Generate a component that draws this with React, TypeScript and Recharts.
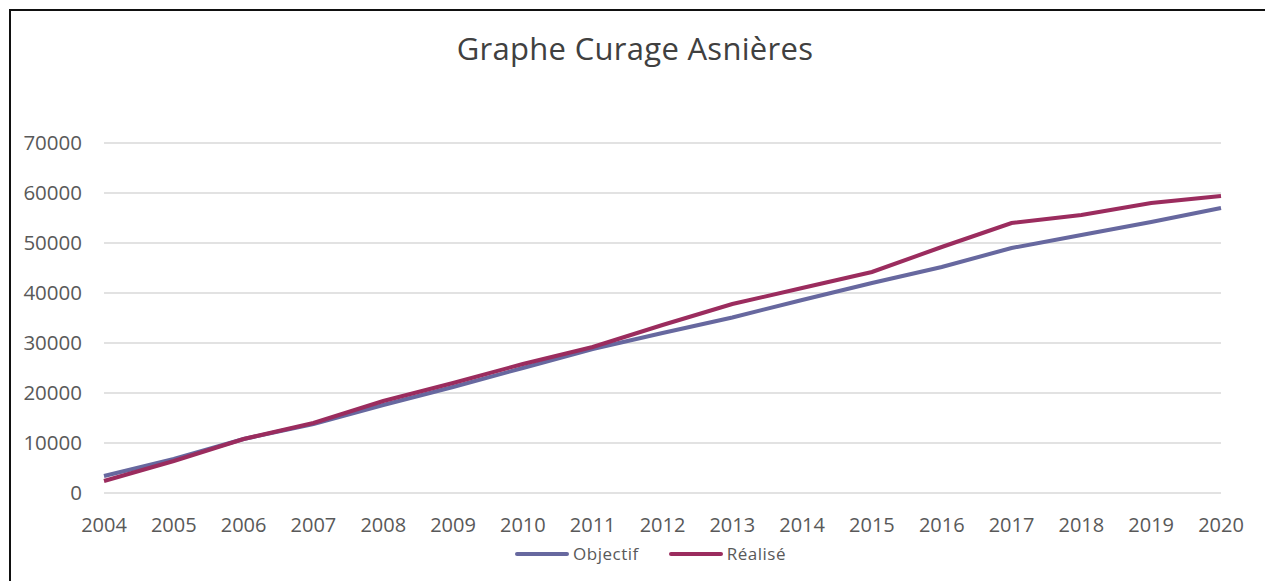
import { LineChart, Line, XAxis, YAxis, CartesianGrid, Legend } from 'recharts';

const years = ['2004', '2005', '2006', '2007', '2008', '2009', '2010', '2011', '2012', '2013', '2014', '2015', '2016', '2017', '2018', '2019', '2020'];
const objectif = [3400, 6800, 10800, 13800, 17600, 21200, 25000, 28800, 32000, 35100, 38600, 42000, 45200, 49000, 51600, 54200, 57000];
const realise = [2400, 6400, 10800, 14000, 18400, 22000, 25800, 29200, 33600, 37800, 41000, 44200, 49200, 54000, 55600, 58000, 59400];
const yTicks = [0, 10000, 20000, 30000, 40000, 50000, 60000, 70000];

const COLORS = { objectif: '#67689f', realise: '#9b2c5e' };
const FONT = '"Open Sans", "Segoe UI", sans-serif';

const data = years.map((year, i) => ({ year, objectif: objectif[i], realise: realise[i] }));

const legendItems = [
    { name: 'Objectif', color: COLORS.objectif },
    { name: 'Réalisé', color: COLORS.realise },
];

// legend wrapper is only as wide as the plot, so push it right to centre on the page
function ChartLegend() {
    return (
        <div style={{ display: 'flex', justifyContent: 'center', gap: 30, fontFamily: FONT, fontSize: 17, color: '#595959', marginLeft: 80, marginTop: -3 }}>
            {legendItems.map((item) => (
                <div key={item.name} style={{ display: 'flex', alignItems: 'center' }}>
                    <span style={{ display: 'inline-block', width: 54, height: 4, borderRadius: 2, background: item.color, marginRight: 4 }} />
                    <span style={{ letterSpacing: 0.5 }}>{item.name}</span>
                </div>
            ))}
        </div>
    );
}

export default function App() {
    return (
        <div style={{ position: 'fixed', left: 0, top: 0, width: 1265, height: 581, overflow: 'hidden', background: '#fff' }}>
            <div style={{ position: 'absolute', left: 9, top: 9, width: 2000, height: 2000, border: '2px solid #111' }} />
            <div style={{ position: 'absolute', left: 0, top: 27, width: 1270, textAlign: 'center', fontFamily: FONT, fontSize: 31, color: '#404040', letterSpacing: 0.3 }}>
                Graphe Curage Asnières
            </div>
            <div style={{ position: 'absolute', left: 0, top: 0 }}>
                <LineChart width={1265} height={581} data={data} margin={{ top: 143, right: 44, left: 0, bottom: 0 }}>
                    <CartesianGrid vertical={false} stroke="#d9d9d9" strokeWidth={1.5} />
                    <XAxis
                        dataKey="year"
                        axisLine={false}
                        tickLine={false}
                        tickSize={0}
                        tickMargin={25}
                        height={52}
                        interval={0}
                        tick={{ fill: '#595959', fontSize: 20, fontFamily: FONT }}
                    />
                    <YAxis
                        domain={[0, 70000]}
                        ticks={yTicks}
                        axisLine={false}
                        tickLine={false}
                        tickSize={0}
                        tickMargin={22}
                        width={104}
                        tick={{ fill: '#595959', fontSize: 20.5, fontFamily: FONT }}
                    />
                    <Legend verticalAlign="bottom" height={36} content={() => <ChartLegend />} />
                    <Line type="linear" dataKey="objectif" name="Objectif" stroke={COLORS.objectif} strokeWidth={4} dot={false} isAnimationActive={false} />
                    <Line type="linear" dataKey="realise" name="Réalisé" stroke={COLORS.realise} strokeWidth={4} dot={false} isAnimationActive={false} />
                </LineChart>
            </div>
        </div>
    );
}
